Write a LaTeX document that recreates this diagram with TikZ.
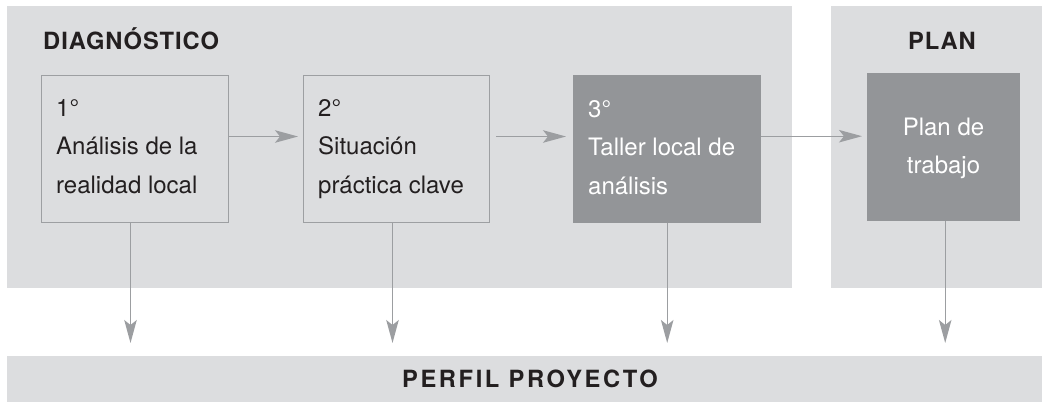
\documentclass[tikz,border=0pt]{standalone}
\usepackage{fontspec}
\setmainfont{TeX Gyre Heros}
\newfontfamily\spacedfont[LetterSpace=11]{TeX Gyre Heros}
\newfontfamily\titlefont[LetterSpace=4]{TeX Gyre Heros}
\usetikzlibrary{arrows.meta}
\definecolor{panelgray}{HTML}{DCDDDF}
\definecolor{darkfill}{HTML}{939598}
\definecolor{linegray}{HTML}{9C9EA1}
\definecolor{boxline}{HTML}{9D9FA2}
\definecolor{txt}{HTML}{231F20}
\begin{document}
\begin{tikzpicture}[x=1pt,y=-1pt,
  panel/.style={fill=panelgray, draw=none, inner sep=0pt, anchor=north west},
  lightbox/.style={draw=boxline, line width=1pt, inner sep=0pt, anchor=north west},
  darkbox/.style={fill=darkfill, draw=none, inner sep=0pt, anchor=north west},
  arr/.style={draw=linegray, line width=1.3pt, -{Stealth[length=23pt,width=12.5pt,inset=5pt]}},
  bodytxt/.style={font=\fontsize{24}{38.5}\selectfont, text=txt, inner sep=0pt, align=left, anchor=north west},
  headtxt/.style={font=\titlefont\bfseries\fontsize{23.7}{28}\selectfont, text=txt, inner sep=0pt}
]
\useasboundingbox (0,0) rectangle (1042,402);
% panels
\node[panel, minimum width=785pt, minimum height=282pt] (diag) at (7,6) {};
\node[panel, minimum width=211pt, minimum height=282pt] (plan) at (831,6) {};
\node[panel, minimum width=1035pt, minimum height=46pt] (perfil) at (7,356) {};
% titles
\node[headtxt, anchor=base west] (tdiag) at (43,49) {DIAGNÓSTICO};
\node[headtxt, anchor=base] (tplan) at (942,49) {PLAN};
\node[font=\spacedfont\bfseries\fontsize{23.7}{28}\selectfont, text=txt, inner sep=0pt, anchor=base] (tperfil) at (530,387) {PERFIL PROYECTO};
% boxes
\node[lightbox, minimum width=187pt, minimum height=147pt] (b1) at (41,75) {};
\node[lightbox, minimum width=186pt, minimum height=147pt] (b2) at (303,75) {};
\node[darkbox, minimum width=188pt, minimum height=148pt] (b3) at (573,75) {};
\node[darkbox, minimum width=153pt, minimum height=148pt] (b4) at (867,73) {};
% box texts
\node[bodytxt] (t1) at (56,96) {\rule{0pt}{20pt}1°\\Análisis de la\\realidad local};
\node[bodytxt] (t2) at (318,96) {\rule{0pt}{20pt}2°\\Situación\\práctica clave};
\node[bodytxt, text=white] (t3) at (588,97) {\rule{0pt}{20pt}3°\\Taller local de\\análisis};
\node[bodytxt, text=white, align=center, anchor=north] (t4) at (943.5,115) {\rule{0pt}{20pt}Plan de\\trabajo};
% horizontal arrows
\draw[arr, shorten >=5pt] ([yshift=12.5pt]b1.east) -- ([yshift=12.5pt]b1.east -| b2.west);
\draw[arr, shorten <=6pt, shorten >=7pt] ([yshift=12.5pt]b2.east) -- ([yshift=12.5pt]b2.east -| b3.west);
\draw[arr, shorten >=5pt] ([yshift=13pt]b3.east) -- ([yshift=13pt]b3.east -| b4.west);
% vertical arrows
\draw[arr, shorten >=13pt] ([xshift=-4.5pt]b1.south) -- ([xshift=-4.5pt]b1.south |- perfil.north);
\draw[arr, shorten >=13pt] ([xshift=-4pt]b2.south) -- ([xshift=-4pt]b2.south |- perfil.north);
\draw[arr, shorten >=13pt] (b3.south) -- (b3.south |- perfil.north);
\draw[arr, shorten >=13pt] ([xshift=1.5pt]b4.south) -- ([xshift=1.5pt]b4.south |- perfil.north);
\end{tikzpicture}
\end{document}
